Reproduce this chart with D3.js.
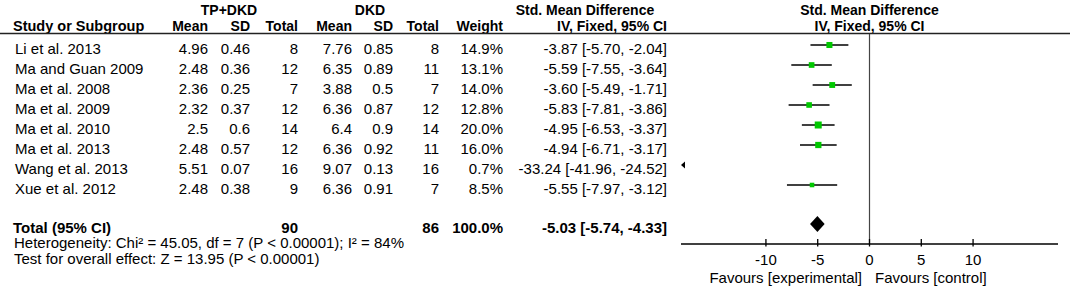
<!DOCTYPE html>
<html>
<head>
<meta charset="utf-8">
<script src="https://cdn.jsdelivr.net/npm/d3@7"></script>
<style>
  body { margin: 0; background: #fff; }
  svg { display: block; font-family: Arial, "Liberation Sans", sans-serif; }
  .hd { font-weight: bold; font-size: 14px; }
  .tot { font-weight: bold; font-size: 15px; }
  .cell { font-size: 15px; }
</style>
</head>
<body>
<svg id="chart"></svg>
<script>
const studies = ['Li et al. 2013', 'Ma and Guan 2009', 'Ma et al. 2008', 'Ma et al. 2009',
  'Ma et al. 2010', 'Ma et al. 2013', 'Wang et al. 2013', 'Xue et al. 2012'];
const expMean = [4.96, 2.48, 2.36, 2.32, 2.5, 2.48, 5.51, 2.48];
const expSD = [0.46, 0.36, 0.25, 0.37, 0.6, 0.57, 0.07, 0.38];
const expN = [8, 12, 7, 12, 14, 12, 16, 9];
const ctlMean = [7.76, 6.35, 3.88, 6.36, 6.4, 6.36, 9.07, 6.36];
const ctlSD = [0.85, 0.89, 0.5, 0.87, 0.9, 0.92, 0.13, 0.91];
const ctlN = [8, 11, 7, 12, 14, 11, 16, 7];
const weights = [14.9, 13.1, 14.0, 12.8, 20.0, 16.0, 0.7, 8.5];
const smd = [-3.87, -5.59, -3.60, -5.83, -4.95, -4.94, -33.24, -5.55];
const ciLow = [-5.70, -7.55, -5.49, -7.81, -6.53, -6.71, -41.96, -7.97];
const ciHigh = [-2.04, -3.64, -1.71, -3.86, -3.37, -3.17, -24.52, -3.12];

const total = { label: 'Total (95% CI)', expN: 90, ctlN: 86, weight: 100.0, smd: -5.03, lo: -5.74, hi: -4.33 };
const axisTicks = [-10, -5, 0, 5, 10];
const heterogeneity = 'Heterogeneity: Chi\u00b2 = 45.05, df = 7 (P < 0.00001); I\u00b2 = 84%';
const overallTest = 'Test for overall effect: Z = 13.95 (P < 0.00001)';

const width = 1072, height = 288;
const svg = d3.select('#chart').attr('width', width).attr('height', height);

// row positions (centre of the CI line); text baseline sits a little lower
const rowY = d3.scaleLinear().domain([0, studies.length - 1]).range([45, 185]);
const totalY = 224;
const textDy = 9;

const x = d3.scaleLinear().domain([-18.2, 18.2]).range([681, 1058]);
const boxSize = d3.scaleSqrt().domain([0, 20]).range([0, 7]);

// table columns: right edges
const cols = [
  { x: 208, title: 'Mean', fmt: i => String(expMean[i]) },
  { x: 250, title: 'SD', fmt: i => String(expSD[i]) },
  { x: 298, title: 'Total', fmt: i => String(expN[i]) },
  { x: 352, title: 'Mean', fmt: i => String(ctlMean[i]) },
  { x: 393, title: 'SD', fmt: i => String(ctlSD[i]) },
  { x: 439, title: 'Total', fmt: i => String(ctlN[i]) },
  { x: 503, title: 'Weight', fmt: i => weights[i].toFixed(1) + '%' },
  { x: 667, title: 'IV, Fixed, 95% CI',
    fmt: i => `${smd[i].toFixed(2)} [${ciLow[i].toFixed(2)}, ${ciHigh[i].toFixed(2)}]` }
];

// group headers
svg.append('text').attr('class', 'hd').attr('x', 229).attr('y', 15).attr('text-anchor', 'middle').text('TP+DKD');
svg.append('text').attr('class', 'hd').attr('x', 370).attr('y', 15).attr('text-anchor', 'middle').text('DKD');
svg.append('text').attr('class', 'hd').attr('x', 585).attr('y', 15).attr('text-anchor', 'middle').text('Std. Mean Difference');
svg.append('text').attr('class', 'hd').attr('x', x(0)).attr('y', 15).attr('text-anchor', 'middle').text('Std. Mean Difference');
svg.append('text').attr('class', 'hd').attr('x', x(0)).attr('y', 31).attr('text-anchor', 'middle').text('IV, Fixed, 95% CI');

// column headers
svg.append('text').attr('class', 'hd').style('font-size', '14.5px').attr('x', 13).attr('y', 31).text('Study or Subgroup');
svg.selectAll('.colhd')
  .data(cols)
  .join('text')
  .attr('class', 'hd colhd')
  .attr('x', d => d.x)
  .attr('y', 31)
  .attr('text-anchor', 'end')
  .text(d => d.title);

svg.append('line')
  .attr('x1', 0).attr('x2', 1070)
  .attr('y1', 33.5).attr('y2', 33.5)
  .attr('stroke', '#222').attr('stroke-width', 1.3);

// study rows
const rows = svg.append('g').selectAll('g')
  .data(studies)
  .join('g')
  .attr('transform', (d, i) => `translate(0,${rowY(i) + textDy})`);

rows.append('text').attr('class', 'cell').attr('x', 15).text(d => d);
cols.forEach(c => {
  rows.append('text')
    .attr('class', 'cell')
    .attr('x', c.x)
    .attr('text-anchor', 'end')
    .text((d, i) => c.fmt(i));
});

// zero line
svg.append('line')
  .attr('x1', x(0)).attr('x2', x(0))
  .attr('y1', 34).attr('y2', 244)
  .attr('stroke', '#444').attr('stroke-width', 1.2);

// CIs and boxes
const [dMin, dMax] = x.domain();
const plot = svg.append('g');
studies.forEach((s, i) => {
  const y = rowY(i);
  if (ciHigh[i] < dMin) {
    // whole interval off the scale: arrow at the left edge
    plot.append('path')
      .attr('d', `M${x(dMin)},${y} L${x(dMin) + 4},${y - 3.5} L${x(dMin) + 4},${y + 3.5} Z`)
      .attr('fill', '#000');
    return;
  }
  plot.append('line')
    .attr('x1', x(Math.max(ciLow[i], dMin))).attr('x2', x(Math.min(ciHigh[i], dMax)))
    .attr('y1', y).attr('y2', y)
    .attr('stroke', '#000').attr('stroke-width', 1.6);
  const b = boxSize(weights[i]);
  plot.append('rect')
    .attr('x', x(smd[i]) - b / 2).attr('y', y - b / 2)
    .attr('width', b).attr('height', b)
    .attr('fill', '#00c800');
});

// total row
const tg = svg.append('g').attr('transform', `translate(0,${totalY + 8.5})`);
tg.append('text').attr('class', 'tot').attr('x', 13).text(total.label);
tg.append('text').attr('class', 'tot').attr('x', 298).attr('text-anchor', 'end').text(total.expN);
tg.append('text').attr('class', 'tot').attr('x', 439).attr('text-anchor', 'end').text(total.ctlN);
tg.append('text').attr('class', 'tot').attr('x', 503).attr('text-anchor', 'end').text(total.weight.toFixed(1) + '%');
tg.append('text').attr('class', 'tot').attr('x', 667).attr('text-anchor', 'end')
  .text(`${total.smd.toFixed(2)} [${total.lo.toFixed(2)}, ${total.hi.toFixed(2)}]`);

svg.append('path')
  .attr('d', `M${x(total.lo)},${totalY} L${x(total.smd)},${totalY - 8} L${x(total.hi)},${totalY} L${x(total.smd)},${totalY + 8} Z`)
  .attr('fill', '#000');

// footnotes
svg.append('text').attr('class', 'cell').attr('x', 14).attr('y', 247.5).text(heterogeneity);
svg.append('text').attr('class', 'cell').attr('x', 14).attr('y', 264).text(overallTest);

// axis
const axisY = 244;
svg.append('line')
  .attr('x1', x(dMin)).attr('x2', x(dMax))
  .attr('y1', axisY).attr('y2', axisY)
  .attr('stroke', '#000').attr('stroke-width', 1.3);

svg.selectAll('.tick')
  .data(axisTicks)
  .join('line')
  .attr('class', 'tick')
  .attr('x1', d => x(d)).attr('x2', d => x(d))
  .attr('y1', axisY - 5).attr('y2', axisY + 2.5)
  .attr('stroke', '#000').attr('stroke-width', 1.3);

svg.selectAll('.ticklbl')
  .data(axisTicks)
  .join('text')
  .attr('class', 'cell ticklbl')
  .attr('x', d => x(d))
  .attr('y', 265)
  .attr('text-anchor', 'middle')
  .text(d => String(d));

svg.append('text').attr('class', 'cell').attr('x', 862).attr('y', 283).attr('text-anchor', 'end').text('Favours [experimental]');
svg.append('text').attr('class', 'cell').attr('x', 875).attr('y', 283).text('Favours [control]');
</script>
</body>
</html>
